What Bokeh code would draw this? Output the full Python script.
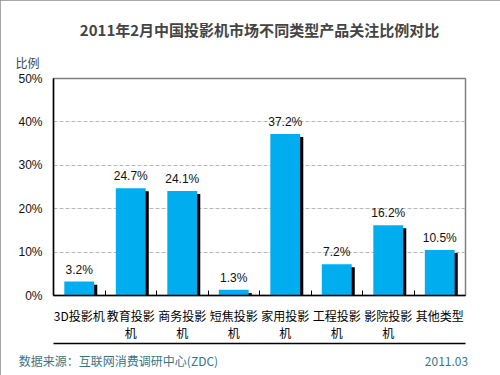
from bokeh.plotting import figure
from bokeh.models import (Range1d, FixedTicker, ColumnDataSource, CustomJSTickFormatter,
                          LinearAxis, Title)
from bokeh.core.properties import value
from bokeh.embed import file_html
from bokeh.resources import INLINE

title = "2011年2月中国投影机市场不同类型产品关注比例对比"
categories = ["3D投影机", "教育投影机", "商务投影机", "短焦投影机", "家用投影机", "工程投影机", "影院投影机", "其他类型"]
label_line1 = ["3D投影机", "教育投影", "商务投影", "短焦投影", "家用投影", "工程投影", "影院投影", "其他类型"]
label_line2 = ["", "机", "机", "机", "机", "机", "机", ""]
values = [3.2, 24.7, 24.1, 1.3, 37.2, 7.2, 16.2, 10.5]
y_ticks = [0, 10, 20, 30, 40, 50]
y_axis_title = "比例"
source_text = "数据来源：互联网消费调研中心(ZDC)"
date_text = "2011.03"

CJK = "Noto Sans CJK SC"
LAT = "Liberation Sans"
BLUE = "#00AEEF"
TEAL = "#3a7585"

n = len(categories)
centers = [i + 0.5 for i in range(n)]
boundaries = list(range(1, n))

src = ColumnDataSource(dict(
    x=centers,
    xs=[c + 0.06 for c in centers],
    val=values,
    shadow=[v - 0.7 for v in values],
    lbl=[f"{v:.1f}%" for v in values],
))

p = figure(width=500, height=375, x_range=Range1d(0, n), y_range=Range1d(0, 50),
           output_backend="svg", toolbar_location=None,
           min_border_left=53, min_border_right=35, min_border_top=78, min_border_bottom=80)
p.background_fill_color = "white"
p.border_fill_color = "white"
p.outline_line_color = "#808080"
p.outline_line_width = 1.5
p.styles = {"outline": "2px solid #8a8a8a", "outline-offset": "-2px"}

# shadow bars then blue bars
p.vbar(x="xs", top="shadow", width=0.58, source=src, fill_color="black", line_color=None)
p.vbar(x="x", top="val", width=0.58, source=src, fill_color=BLUE, line_color=None)

p.text(x="x", y="val", text="lbl", source=src, text_align="center", text_baseline="bottom",
       y_offset=-5, text_font=value(LAT), text_font_size="12px", text_color="#111111")

p.xgrid.visible = False
p.ygrid.grid_line_color = "#b8b8b8"
p.ygrid.grid_line_dash = "4 2"
p.ygrid.grid_line_width = 1

# x axis: first line of category labels, boundary ticks as minor ticks
xa = p.xaxis[0]
xa.ticker = FixedTicker(ticks=centers, minor_ticks=boundaries)
xa.major_label_overrides = dict(zip(centers, label_line1))
xa.major_tick_line_color = None
xa.major_tick_out = 0
xa.major_tick_in = 0
xa.minor_tick_line_color = "black"
xa.minor_tick_in = 5
xa.minor_tick_out = 0
xa.axis_line_color = "black"
xa.axis_line_width = 1.5
xa.major_label_text_font = CJK
xa.major_label_text_font_size = "12px"
xa.major_label_text_color = "black"
xa.major_label_standoff = 11

# second line of category labels
xa2 = LinearAxis(ticker=FixedTicker(ticks=centers),
                 major_label_overrides=dict(zip(centers, label_line2)))
xa2.axis_line_color = None
xa2.major_tick_line_color = None
xa2.minor_tick_line_color = None
xa2.major_tick_out = 0
xa2.major_tick_in = 0
xa2.major_label_text_font = CJK
xa2.major_label_text_font_size = "12px"
xa2.major_label_text_color = "black"
xa2.major_label_standoff = -3
p.add_layout(xa2, "below")

# footer: source and date, with separator line
p.extra_x_ranges = {"px": Range1d(53, 465)}
xa3 = LinearAxis(x_range_name="px", ticker=FixedTicker(ticks=[118, 446]),
                 major_label_overrides={118: source_text, 446: date_text},
                 bounds=(53, 465))
xa3.axis_line_color = "black"
xa3.axis_line_width = 1.5
xa3.major_tick_line_color = None
xa3.minor_tick_line_color = None
xa3.major_tick_out = 0
xa3.major_tick_in = 0
xa3.major_label_text_font = CJK
xa3.major_label_text_font_size = "12px"
xa3.major_label_text_color = TEAL
xa3.major_label_standoff = 8
p.add_layout(xa3, "below")

ya = p.yaxis[0]
ya.ticker = FixedTicker(ticks=y_ticks)
ya.formatter = CustomJSTickFormatter(code="return tick + '%';")
ya.major_tick_line_color = None
ya.minor_tick_line_color = None
ya.major_tick_out = 0
ya.axis_line_color = "black"
ya.axis_line_width = 1.5
ya.major_label_text_font = LAT
ya.major_label_text_font_size = "12px"
ya.major_label_text_color = "#111111"
ya.major_label_standoff = 11

# titles: main title outermost, "比例" next to the frame
p.title.text = title
p.title.align = "center"
p.title.text_font = CJK
p.title.text_font_size = "15px"
p.title.text_font_style = "bold"
p.title.standoff = 7
p.add_layout(Title(text=y_axis_title, align="left", offset=-38, text_font=CJK,
                   text_font_size="12px", text_font_style="normal", standoff=16), "above")

open("out.html", "w").write(file_html(p, INLINE))
